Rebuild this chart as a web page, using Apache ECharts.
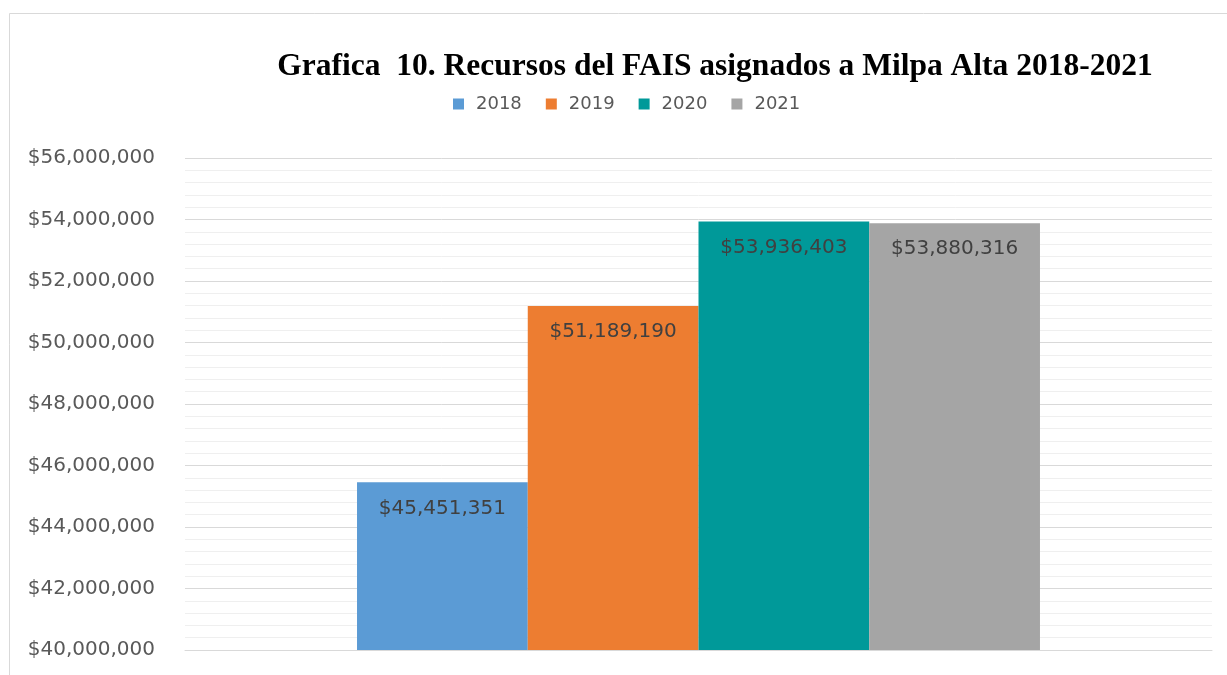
<!DOCTYPE html>
<html>
<head>
<meta charset="utf-8">
<script src="https://cdn.jsdelivr.net/npm/echarts@6/dist/echarts.min.js"></script>
<style>
  html, body { margin: 0; padding: 0; background: #ffffff; }
  #chart { width: 1227px; height: 675px; }
</style>
</head>
<body>
<div id="chart"></div>
<script>
// FAIS resources assigned to Milpa Alta, by year
const titleText = 'Grafica  10. Recursos del FAIS asignados a Milpa Alta 2018-2021';
const categories = [''];
const years = ['2018', '2019', '2020', '2021'];
const amounts = [45451351, 51189190, 53936403, 53880316];
const colors = ['#5B9BD5', '#ED7D31', '#009999', '#A5A5A5'];
const yMin = 40000000;
const yMax = 56000000;
const yStep = 2000000;

const money = v => '$' + Number(v).toLocaleString('en-US');

const chart = echarts.init(document.getElementById('chart'), null, { renderer: 'canvas' });

chart.setOption({
  animation: false,
  backgroundColor: '#ffffff',
  graphic: [{
    type: 'rect',
    left: 7, top: 11,
    shape: { width: 1240, height: 690 },
    style: { fill: 'none', stroke: '#d9d9d9', lineWidth: 1 },
    silent: true
  }],
  title: {
    text: titleText,
    left: 710,
    textAlign: 'center',
    top: 46,
    textStyle: {
      fontFamily: 'Liberation Serif',
      fontWeight: 'bold',
      fontSize: 31.5,
      color: '#000000'
    }
  },
  legend: {
    data: years,
    left: 448,
    top: 90,
    itemWidth: 11,
    itemHeight: 11,
    itemGap: 24,
    icon: 'rect',
    textStyle: { fontFamily: 'DejaVu Sans', fontSize: 18, color: '#595959', padding: [0, 0, 0, 7] }
  },
  grid: { left: 185, right: 15, top: 158, bottom: 25, containLabel: false },
  xAxis: {
    type: 'category',
    data: categories,
    axisLine: { lineStyle: { color: '#d9d9d9' } },
    axisTick: { show: false },
    axisLabel: { show: false }
  },
  yAxis: {
    type: 'value',
    min: yMin,
    max: yMax,
    interval: yStep,
    axisLine: { show: false },
    axisTick: { show: false },
    axisLabel: {
      formatter: money,
      margin: 30,
      fontFamily: 'DejaVu Sans',
      fontSize: 20,
      color: '#595959'
    },
    splitLine: { lineStyle: { color: '#d9d9d9', width: 1 } },
    minorTick: { show: false, splitNumber: 5 },
    minorSplitLine: { show: true, lineStyle: { color: '#efefef', width: 1 } }
  },
  series: years.map((y, i) => ({
    name: y,
    type: 'bar',
    data: [amounts[i]],
    barGap: '0%',
    barCategoryGap: '33.5%',
    itemStyle: { color: colors[i] },
    label: {
      show: true,
      position: 'insideTop',
      distance: 16,
      formatter: p => money(p.value),
      fontFamily: 'DejaVu Sans',
      fontSize: 20,
      color: '#404040'
    }
  }))
});
</script>
</body>
</html>
